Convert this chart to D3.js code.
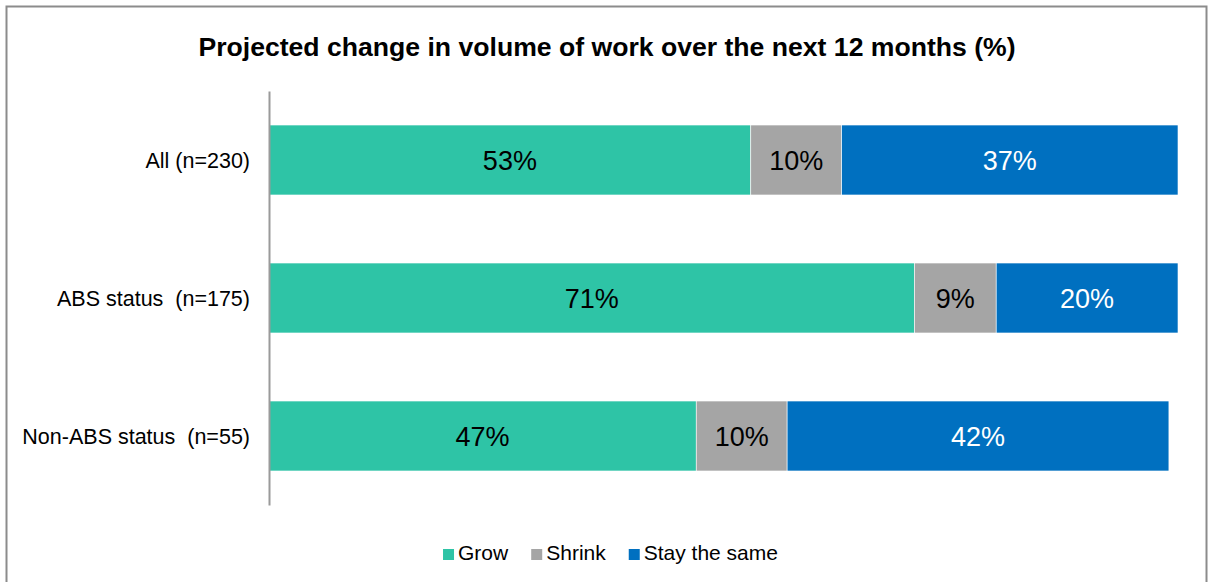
<!DOCTYPE html>
<html>
<head>
<meta charset="utf-8">
<script src="https://cdn.jsdelivr.net/npm/d3@7"></script>
<style>
  html, body { margin: 0; padding: 0; background: #fff; }
  svg { display: block; font-family: Arial, "Liberation Sans", sans-serif; }
  svg text { white-space: pre; }
</style>
</head>
<body>
<svg id="chart" width="1212" height="582"></svg>
<script>
// Survey groups and the share of each answer (%)
const categories = ["All (n=230)", "ABS status  (n=175)", "Non-ABS status  (n=55)"];
const seriesNames = ["Grow", "Shrink", "Stay the same"];
const grow = [53, 71, 47];
const shrink = [10, 9, 10];
const staySame = [37, 20, 42];
const title = "Projected change in volume of work over the next 12 months (%)";

const colors = ["#2EC4A6", "#A5A5A5", "#0070C0"];
const labelColors = ["#000", "#000", "#fff"];

const rows = categories.map((c, i) => ({ category: c, Grow: grow[i], Shrink: shrink[i], "Stay the same": staySame[i] }));
const stacked = d3.stack().keys(seriesNames)(rows);

const svg = d3.select("#chart");

// outer frame
svg.append("rect")
  .attr("x", 6.5).attr("y", 6.5)
  .attr("width", 1200).attr("height", 590)
  .attr("fill", "none").attr("stroke", "#8c8c8c").attr("stroke-width", 2);

// title
svg.append("text")
  .attr("x", 607).attr("y", 56)
  .attr("text-anchor", "middle")
  .attr("font-size", 26.6).attr("font-weight", "bold")
  .attr("fill", "#000")
  .text(title);

const x = d3.scaleLinear().domain([0, 100]).range([269, 1178]);
const y = d3.scaleBand().domain(categories).range([91, 505]).paddingInner(0.493).paddingOuter(0.2465);

// bar segments
const layers = svg.append("g").selectAll("g")
  .data(stacked).join("g")
  .attr("fill", (d, i) => colors[i]);

layers.selectAll("rect")
  .data(d => d.map(v => ({ v, key: d.key })))
  .join("rect")
  .attr("x", d => x(d.v[0]))
  .attr("y", d => y(d.v.data.category))
  .attr("width", d => x(d.v[1]) - x(d.v[0]))
  .attr("height", y.bandwidth())
  .attr("stroke", "#fff").attr("stroke-width", 0.6);

// value labels
stacked.forEach((layer, li) => {
  svg.append("g").selectAll("text")
    .data(layer).join("text")
    .attr("x", d => (x(d[0]) + x(d[1])) / 2)
    .attr("y", d => y(d.data.category) + y.bandwidth() / 2 + 9.5)
    .attr("text-anchor", "middle")
    .attr("font-size", 27)
    .attr("fill", labelColors[li])
    .text(d => (d[1] - d[0]) + "%");
});

// category axis
const axis = svg.append("g").attr("transform", "translate(269,0)")
  .call(d3.axisLeft(y).tickSize(0).tickPadding(19));
axis.select(".domain").attr("stroke", "#9a9a9a").attr("stroke-width", 2);
axis.selectAll("text").attr("font-size", 21.5).attr("fill", "#000")
  .attr("font-family", "Arial, 'Liberation Sans', sans-serif").attr("dy", "0.35em");

// legend
const legend = svg.append("g");
let cx = 0;
seriesNames.forEach((name, i) => {
  const g = legend.append("g");
  g.append("rect").attr("x", 0).attr("y", -11).attr("width", 11).attr("height", 11).attr("fill", colors[i]);
  const t = g.append("text").attr("x", 15).attr("y", 0).attr("font-size", 21).attr("fill", "#000").text(name);
  const w = 15 + t.node().getComputedTextLength();
  g.attr("transform", `translate(${cx},0)`);
  cx += w + 23;
});
const totalW = cx - 23;
legend.attr("transform", `translate(${610.5 - totalW / 2},560)`);
</script>
</body>
</html>
